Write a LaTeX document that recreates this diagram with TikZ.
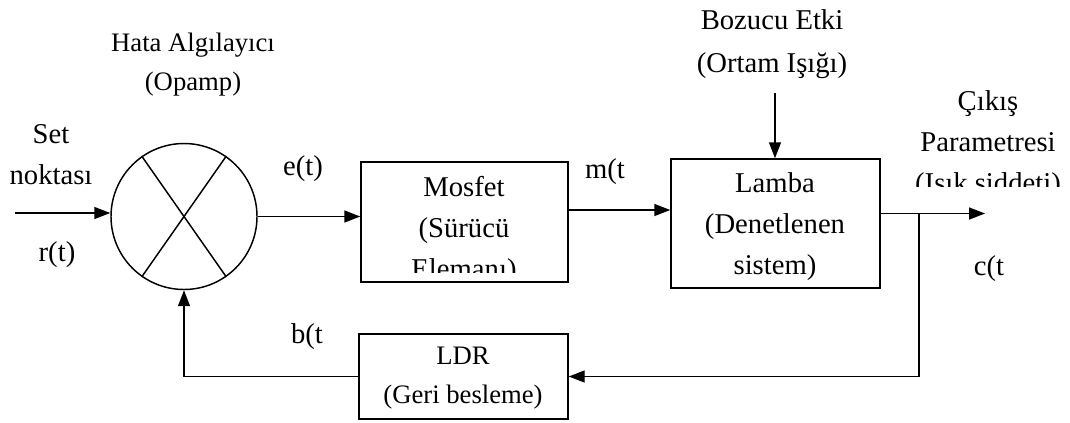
\documentclass[tikz,border=0pt]{standalone}
\usepackage{fontspec}
\setmainfont{Liberation Serif}
\usetikzlibrary{arrows.meta,calc}
\begin{document}
\begin{tikzpicture}[x=0.75pt,y=-0.75pt,
  wire/.style={line width=1.1pt},
  arr/.style={wire,-{Triangle[length=12pt,width=9pt]}},
  blk/.style={draw,line width=1.1pt,inner sep=0pt},
  lbl/.style={font=\fontsize{21.5}{30.75}\selectfont,align=center,inner sep=0pt},
  slbl/.style={font=\fontsize{20}{29}\selectfont,align=center,inner sep=0pt}]
\useasboundingbox (0,0) rectangle (1070,422);

% summing junction (error detector)
\node[blk,circle,minimum size=109.5pt] (sum) at (184,216.5) {};
\draw[wire] (sum.125) -- (sum.-55);
\draw[wire] (sum.55) -- (sum.235);

% blocks
\node[blk,minimum width=155.25pt,minimum height=90pt] (mos) at (464.5,222) {};
\node[blk,minimum width=156.75pt,minimum height=96.75pt] (lam) at (775.5,223.5) {};
\node[blk,minimum width=156.75pt,minimum height=63.75pt] (ldr) at (463.5,376.5) {};

% block texts (clipped inside their frames)
\begin{scope}
  \clip (361,162) rectangle (568,272);
  \node[lbl] (mostxt) at (464,230) {Mosfet\\(Sürücü\\Elemanı)};
\end{scope}
\node[lbl] (lamtxt) at (775,227) {Lamba\\(Denetlenen\\sistem)};
\node[slbl] (ldrtxt) at (463,378) {LDR\\(Geri besleme)};

% free labels
\node[slbl] (hata) at (193,64.5) {Hata Algılayıcı\\(Opamp)};
\node[lbl] (set) at (51,155) {Set\\noktası};
\node[lbl] (rt) at (57,255) {r(t)};
\node[lbl] (et) at (303,169) {e(t)};
\node[lbl] (mt) at (605,172) {m(t};
\node[lbl] (bt) at (307,337) {b(t};
\node[lbl] (ct) at (989,269) {c(t};
\node[lbl,font=\fontsize{21.5}{32}\selectfont] (boz) at (772,44) {Bozucu Etki\\(Ortam Işığı)};
\begin{scope}
  \clip (900,60) rectangle (1070,186);
  \node[lbl] (cikis) at (988,145) {Çıkış\\Parametresi\\(Işık şiddeti)};
\end{scope}

% signal paths
\coordinate (rin) at (15,213);
\coordinate (dist) at (775,93);
\coordinate (cout) at (985,213.5);
\coordinate (br) at (919,213.5);

\draw[arr] (rin) -- (rin -| sum.west);
\draw[arr] (sum.east) -- (sum.east -| mos.west);
\draw[arr] ([yshift=9pt]mos.east) coordinate (m1) -- (m1 -| lam.west);
\draw[arr] (dist) -- (dist |- lam.north);
\draw[arr] (cout -| lam.east) -- (cout);
\draw[arr] (br) |- (ldr.east);
\draw[arr] (ldr.west) -| (sum.south);
\end{tikzpicture}
\end{document}
